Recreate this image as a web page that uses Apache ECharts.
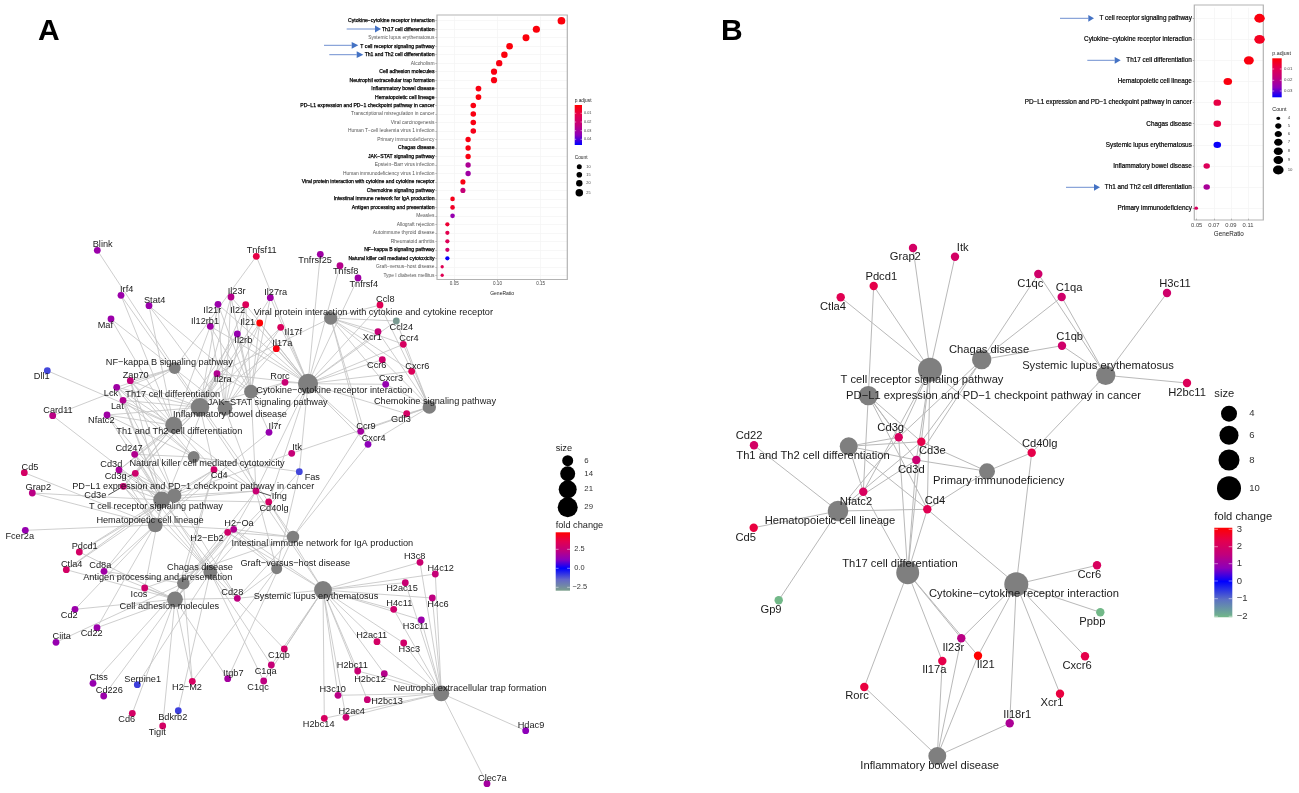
<!DOCTYPE html>
<html>
<head>
<meta charset="utf-8">
<script src="https://cdn.jsdelivr.net/npm/echarts@6/dist/echarts.min.js"></script>
<style>html,body{margin:0;padding:0;background:#fff}#c{width:1299px;height:793px}</style>
</head>
<body>
<div id="c"></div>
<script>
// ---------- Dot plot A ----------
const dotACategories = ["Cytokine−cytokine receptor interaction","Th17 cell differentiation","Systemic lupus erythematosus","T cell receptor signaling pathway","Th1 and Th2 cell differentiation","Alcoholism","Cell adhesion molecules","Neutrophil extracellular trap formation","Inflammatory bowel disease","Hematopoietic cell lineage","PD−L1 expression and PD−1 checkpoint pathway in cancer","Transcriptional misregulation in cancer","Viral carcinogenesis","Human T−cell leukemia virus 1 infection","Primary immunodeficiency","Chagas disease","JAK−STAT signaling pathway","Epstein−Barr virus infection","Human immunodeficiency virus 1 infection","Viral protein interaction with cytokine and cytokine receptor","Chemokine signaling pathway","Intestinal immune network for IgA production","Antigen processing and presentation","Measles","Allograft rejection","Autoimmune thyroid disease","Rheumatoid arthritis","NF−kappa B signaling pathway","Natural killer cell mediated cytotoxicity","Graft−versus−host disease","Type I diabetes mellitus"];
const dotARatio = [0.174,0.145,0.133,0.114,0.108,0.102,0.096,0.096,0.078,0.078,0.072,0.072,0.072,0.072,0.066,0.066,0.066,0.066,0.066,0.060,0.060,0.048,0.048,0.048,0.042,0.042,0.042,0.042,0.042,0.036,0.036];
const dotACount = [29,24,22,19,18,17,16,16,13,13,12,12,12,12,11,11,11,11,11,10,10,8,8,8,7,7,7,7,7,6,6];
const dotAPadj = [0.002,0.002,0.002,0.002,0.002,0.003,0.003,0.003,0.003,0.002,0.003,0.003,0.003,0.004,0.003,0.003,0.003,0.028,0.031,0.003,0.022,0.004,0.006,0.033,0.008,0.012,0.014,0.019,0.046,0.013,0.013];
const dotABold = ["Cytokine−cytokine receptor interaction","Th17 cell differentiation","T cell receptor signaling pathway","Th1 and Th2 cell differentiation","Cell adhesion molecules","Neutrophil extracellular trap formation","Inflammatory bowel disease","Hematopoietic cell lineage","PD−L1 expression and PD−1 checkpoint pathway in cancer","Chagas disease","JAK−STAT signaling pathway","Viral protein interaction with cytokine and cytokine receptor","Chemokine signaling pathway","Intestinal immune network for IgA production","Antigen processing and presentation","NF−kappa B signaling pathway","Natural killer cell mediated cytotoxicity"];
const dotATicks = [0.05,0.10,0.15];

// ---------- Dot plot B ----------
const dotBCategories = ["T cell receptor signaling pathway","Cytokine−cytokine receptor interaction","Th17 cell differentiation","Hematopoietic cell lineage","PD−L1 expression and PD−1 checkpoint pathway in cancer","Chagas disease","Systemic lupus erythematosus","Inflammatory bowel disease","Th1 and Th2 cell differentiation","Primary immunodeficiency"];
const dotBRatio = [0.1235,0.1235,0.111,0.0864,0.0741,0.0741,0.0741,0.0617,0.0617,0.0494];
const dotBCount = [10,10,9,7,6,6,6,5,5,4];
const dotBPadj = [0.002,0.004,0.002,0.002,0.008,0.008,0.035,0.011,0.022,0.012];
const dotBTicks = [0.05,0.07,0.09,0.11];

// ---------- Network A: layout positions are the data of a network ----------
const netAPathways = [["Viral protein interaction with cytokine and cytokine receptor",330.7,318,10],["Cytokine−cytokine receptor interaction",308,383.7,29],["Chemokine signaling pathway",429.3,407,10],["JAK−STAT signaling pathway",251,391.7,11],["Inflammatory bowel disease",225,408.3,13],["Th17 cell differentiation",200,407.3,24],["Th1 and Th2 cell differentiation",173.7,425.3,19],["NF−kappa B signaling pathway",174.7,368,7],["Natural killer cell mediated cytotoxicity",193.7,457,7],["T cell receptor signaling pathway",161.7,500,19],["PD−L1 expression and PD−1 checkpoint pathway in cancer",174.3,495.7,12],["Hematopoietic cell lineage",155.3,525,13],["Chagas disease",210.3,572,11],["Antigen processing and presentation",183.3,583.3,8],["Cell adhesion molecules",175,599.3,16],["Intestinal immune network for IgA production",293,537,8],["Graft−versus−host disease",276.7,568.7,6],["Systemic lupus erythematosus",323,590,22],["Neutrophil extracellular trap formation",441.3,693.3,16]];
const netAGenes = [["Blink",97.3,250.3,1.5],["Tnfsf11",256.3,256.3,3.7],["Irf4",121,295.3,1.5],["Stat4",149,305.7,1.5],["Il21r",218,304.3,1.5],["Il23r",231,297,2.1],["Il22",245.7,304.7,3.3],["Il27ra",270.3,297.7,1.6],["Maf",111,319,1.5],["Il12rb1",210.3,326.3,1.6],["Il21",259.7,323,4.7],["Il17f",280.7,327.3,3.2],["Il2rb",237.3,334,1.4],["Il17a",276.3,348.7,4.5],["Dll1",47.3,370.7,-1],["Zap70",130.3,380.7,2.4],["Il2ra",217,373.7,2.0],["Rorc",285,382.3,2.6],["Lck",116.7,387.3,1.6],["Lat",123,400.3,2.0],["Nfatc2",107,415,1.6],["Card11",52.7,415.7,2.2],["Il7r",269,432.3,1.4],["Cd247",134.7,454.3,2.0],["Itk",291.7,453.3,2.5],["Cd3d",119,470,1.8],["Cd3g",135.3,473.3,2.8],["Cd4",214,469.7,2.9],["Cd5",24.3,472.7,3.0],["Grap2",32.3,493,2.2],["Cd3e",123.3,486.3,2.6],["Ifng",256,491,2.6],["Cd40lg",268.7,502,3.0],["Tnfrsf25",320.3,254.3,1.6],["Tnfsf8",340,265.7,2.1],["Tnfrsf4",358,278,1.6],["Ccl8",380,305,3.4],["Ccl24",396.3,321,-2.8],["Xcr1",378,331.7,2.5],["Ccr4",403.3,344.3,3.1],["Ccr6",382.3,359.7,2.8],["Cxcr6",411.7,371.3,3.3],["Cxcr3",385.7,384.3,1.4],["Gdf3",406.7,413.7,3.0],["Ccr9",360.7,431.3,1.7],["Cxcr4",368,444.3,1.2],["Fas",299.3,471.7,-1],["Fcer2a",25.3,530.3,1.4],["H2−Oa",233.7,529.3,2.0],["H2−Eb2",227.7,532.3,2.9],["Pdcd1",79.3,552,3.0],["Ctla4",66.3,569.7,3.0],["Cd8a",104,571.3,1.6],["Icos",144.7,588,2.8],["Cd28",237.3,598.3,2.3],["Cd2",75,609.3,1.5],["Cd22",97,627.7,1.5],["Ciita",56,642.3,1.4],["C1qb",284.3,649,2.9],["C1qa",271.3,665,2.5],["Itgb7",227.7,678.7,1.7],["C1qc",263.7,681,2.3],["H2−M2",192.3,681.3,3.1],["Ctss",93,683.3,1.4],["Serpine1",137.3,684.7,-0.9],["Cd226",103.7,696,1.5],["Bdkrb2",178.3,710.7,-0.9],["Cd6",132.3,713.3,3.0],["Tigit",162.7,726,3.0],["H3c8",420,562.3,2.7],["H4c12",435.3,574,2.5],["H2ac15",405.3,582.7,2.6],["H4c6",432.3,598,2.3],["H4c11",393.7,609.3,2.8],["H3c11",421.3,620,1.5],["H2ac11",377,641.7,3.0],["H3c3",403.7,643,2.9],["H2bc11",357.7,671,2.6],["H2bc12",384.3,673.7,2.1],["H3c10",338,695.3,2.2],["H2bc13",367.3,699.7,2.6],["H2ac4",346,717.3,2.7],["H2bc14",324.3,718.3,3.1],["Hdac9",525.7,730.7,1.2],["Clec7a",487,783.7,1.7]];
const netAMembers = {
 "Viral protein interaction with cytokine and cytokine receptor":["Ccl8","Ccl24","Xcr1","Ccr4","Ccr6","Cxcr6","Cxcr3","Ccr9","Cxcr4","Il2ra"],
 "Cytokine−cytokine receptor interaction":["Tnfsf11","Il21r","Il23r","Il22","Il27ra","Il12rb1","Il21","Il17f","Il2rb","Il17a","Il2ra","Il7r","Tnfrsf25","Tnfsf8","Tnfrsf4","Ccl8","Ccl24","Xcr1","Ccr4","Ccr6","Cxcr6","Cxcr3","Gdf3","Ccr9","Cxcr4","Fas","Ifng","Cd40lg","Rorc"],
 "Chemokine signaling pathway":["Ccl8","Ccl24","Xcr1","Ccr4","Ccr6","Cxcr6","Cxcr3","Ccr9","Cxcr4","Gdf3","Itk"],
 "JAK−STAT signaling pathway":["Il21r","Il23r","Il22","Il27ra","Il12rb1","Il21","Il2rb","Il2ra","Il7r","Ifng","Stat4"],
 "Inflammatory bowel disease":["Il21r","Il23r","Il22","Il12rb1","Il21","Il17f","Il17a","Stat4","Maf","Rorc","Ifng"],
 "Th17 cell differentiation":["Il21r","Il23r","Il22","Il21","Il17f","Il17a","Il2ra","Il2rb","Il27ra","Irf4","Rorc","Zap70","Lck","Lat","Nfatc2","Cd3d","Cd3g","Cd3e","Cd4","Ifng"],
 "Th1 and Th2 cell differentiation":["Il12rb1","Il2ra","Il2rb","Stat4","Maf","Zap70","Lck","Lat","Nfatc2","Cd247","Cd3d","Cd3g","Cd3e","Cd4","Ifng","Dll1","Irf4"],
 "NF−kappa B signaling pathway":["Blink","Tnfsf11","Zap70","Lck","Lat","Card11","Cd40lg"],
 "Natural killer cell mediated cytotoxicity":["Zap70","Lck","Lat","Cd247","Ifng","Fas","Nfatc2"],
 "T cell receptor signaling pathway":["Zap70","Lck","Lat","Card11","Nfatc2","Cd247","Cd3d","Cd3g","Cd3e","Cd4","Ifng","Cd40lg","Itk","Grap2","Pdcd1","Ctla4","Cd8a","Icos","Cd28"],
 "PD−L1 expression and PD−1 checkpoint pathway in cancer":["Zap70","Lck","Nfatc2","Cd247","Cd3d","Cd3g","Cd3e","Cd4","Ifng","Pdcd1","Ctla4","Cd28"],
 "Hematopoietic cell lineage":["Il7r","Cd3d","Cd3g","Cd3e","Cd4","Cd5","Fcer2a","Cd2","Cd8a","Cd22","Il2ra","Grap2","H2−Oa"],
 "Chagas disease":["C1qb","C1qa","C1qc","Cd3d","Cd3g","Cd3e","Cd247","Ifng","Fas","Serpine1","Bdkrb2"],
 "Antigen processing and presentation":["Cd4","Cd8a","H2−Oa","H2−Eb2","H2−M2","Ciita","Ctss","Ifng"],
 "Cell adhesion molecules":["Cd4","Cd8a","H2−Oa","H2−Eb2","H2−M2","Cd2","Cd22","Cd6","Cd226","Icos","Cd28","Ctla4","Pdcd1","Tigit","Itgb7","Cd40lg"],
 "Intestinal immune network for IgA production":["H2−Oa","H2−Eb2","Cd28","Ccr9","Cxcr4","Itgb7","Icos","Cd40lg"],
 "Graft−versus−host disease":["H2−Oa","H2−Eb2","H2−M2","Cd28","Ifng","Fas"],
 "Systemic lupus erythematosus":["H3c8","H4c12","H2ac15","H4c6","H4c11","H3c11","H2ac11","H3c3","H2bc11","H2bc12","H3c10","H2bc13","H2ac4","H2bc14","C1qb","C1qa","C1qc","H2−Oa","H2−Eb2","Cd28","Cd40lg","Ifng"],
 "Neutrophil extracellular trap formation":["H3c8","H4c12","H2ac15","H4c6","H4c11","H3c11","H2ac11","H3c3","H2bc11","H2bc12","H3c10","H2bc13","H2ac4","H2bc14","Hdac9","Clec7a"]
};

// ---------- Network B ----------
const netBPathways = [["T cell receptor signaling pathway",930,369.7,10],["Chagas disease",981.7,359.7,6],["Systemic lupus erythematosus",1105.7,375.3,6],["PD−L1 expression and PD−1 checkpoint pathway in cancer",868.3,395.7,6],["Th1 and Th2 cell differentiation",848.7,446.3,5],["Primary immunodeficiency",987,471.3,4],["Hematopoietic cell lineage",838,511,7],["Th17 cell differentiation",907.7,572.7,9],["Cytokine−cytokine receptor interaction",1016.3,584.3,10],["Inflammatory bowel disease",937.3,756,5]];
const netBGenes = [["Grap2",913,248,1.9],["Itk",955,256.7,1.9],["Pdcd1",873.7,286,2.3],["Ctla4",840.7,297.3,2.2],["C1qc",1038.3,274,1.8],["C1qa",1061.7,297,1.8],["C1qb",1062,345.7,1.8],["H3c11",1167,293,1.8],["H2bc11",1187,383,2.1],["Cd22",754,445.3,1.9],["Cd3g",898.7,437.3,2.0],["Cd3e",921.3,441.7,2.3],["Cd3d",916.3,460,1.7],["Cd40lg",1031.7,452.7,2.3],["Nfatc2",863.3,491.7,2.0],["Cd4",927.3,509.3,2.2],["Cd5",753.7,527.7,2.4],["Gp9",778.7,600.3,-2],["Ccr6",1097,565.3,2.0],["Ppbp",1100.3,612.3,-2],["Il23r",961.3,638.3,1.4],["Il21",978,655.7,3],["Il17a",942.3,661,2.3],["Cxcr6",1085,656.3,2.3],["Rorc",864.3,687,2.4],["Xcr1",1060,693.7,2.4],["Il18r1",1009.7,723.3,1.2]];
const netBMembers = {
 "T cell receptor signaling pathway":["Ctla4","Pdcd1","Grap2","Itk","Cd3g","Cd3e","Cd3d","Cd4","Nfatc2","Cd40lg"],
 "PD−L1 expression and PD−1 checkpoint pathway in cancer":["Pdcd1","Nfatc2","Cd3g","Cd3e","Cd3d","Cd4"],
 "Chagas disease":["C1qc","C1qa","C1qb","Cd3g","Cd3e","Cd3d"],
 "Systemic lupus erythematosus":["C1qc","C1qa","C1qb","H3c11","H2bc11","Cd40lg"],
 "Th1 and Th2 cell differentiation":["Cd3g","Cd3e","Cd3d","Cd4","Nfatc2"],
 "Primary immunodeficiency":["Cd3e","Cd3d","Cd4","Cd40lg"],
 "Hematopoietic cell lineage":["Cd22","Cd5","Gp9","Cd3g","Cd3e","Cd3d","Cd4"],
 "Th17 cell differentiation":["Cd3g","Cd3e","Cd3d","Cd4","Nfatc2","Il23r","Il21","Il17a","Rorc"],
 "Cytokine−cytokine receptor interaction":["Cd4","Cd40lg","Ccr6","Ppbp","Cxcr6","Xcr1","Il18r1","Il21","Il23r"],
 "Inflammatory bowel disease":["Rorc","Il17a","Il23r","Il21","Il18r1"]
};

// ---------- label anchors ----------
const labelPosA = {"Blink":[102.7,244.7],"Tnfsf11":[261.7,250.7],"Irf4":[126.7,289.7],"Stat4":[154.7,300],"Il23r":[236.7,291.3],"Il27ra":[275.7,292],"Il21r":[212.3,310.3],"Il22":[237.7,310.7],"Maf":[105.3,325.3],"Il12rb1":[205,321],"Il21":[247.7,322.3],"Il17f":[293.3,332.3],"Il2rb":[243.3,340.3],"Il17a":[282.3,343],"Dll1":[41.7,376.7],"Zap70":[135.7,375],"Il2ra":[222.7,379.3],"Rorc":[280,376.7],"Lck":[111,393.3],"Lat":[117.3,406],"Nfatc2":[101.3,420.7],"Card11":[58,410],"Il7r":[275,426.7],"Cd247":[129,448.3],"Itk":[297,447.3],"Cd3d":[111.3,464.3],"Cd3g":[115.7,476],"Cd4":[219.3,475.7],"Cd5":[30,467],"Grap2":[38.3,487.3],"Cd3e":[95.3,495],"Ifng":[279.3,496.3],"Cd40lg":[274,508.3],"Fas":[312.3,477.3],"Tnfrsf25":[315,260],"Tnfsf8":[345.7,271.7],"Tnfrsf4":[363.7,284],"Ccl8":[385.3,299.3],"Ccl24":[401.3,327],"Xcr1":[372.3,337.7],"Ccr4":[409,338.7],"Ccr6":[376.7,365.7],"Cxcr6":[417.3,366],"Cxcr3":[391,378.7],"Gdf3":[401,419.7],"Ccr9":[366,426],"Cxcr4":[373.7,438.7],"Viral protein interaction with cytokine and cytokine receptor":[373.3,312],"Cytokine−cytokine receptor interaction":[334.3,390.7],"Chemokine signaling pathway":[435,401.7],"JAK−STAT signaling pathway":[267.7,402],"Inflammatory bowel disease":[230,414.3],"Th17 cell differentiation":[172.7,394.7],"Th1 and Th2 cell differentiation":[179.3,431.3],"NF−kappa B signaling pathway":[169.3,362.7],"Natural killer cell mediated cytotoxicity":[207,463.3],"PD−L1 expression and PD−1 checkpoint pathway in cancer":[193.2,486.3],"T cell receptor signaling pathway":[156,506.3],"Hematopoietic cell lineage":[150,520.3],"H2−Oa":[239,523.7],"H2−Eb2":[207,538.3],"Pdcd1":[84.7,546.3],"Ctla4":[71.7,564],"Cd8a":[100.3,565.7],"Chagas disease":[200,567],"Antigen processing and presentation":[157.7,577.7],"Icos":[139,594],"Cell adhesion molecules":[169.3,606],"Cd2":[69.3,615.3],"Cd22":[91.7,633.7],"Ciita":[61.7,636.7],"Cd28":[232.3,592.7],"C1qb":[279,655],"C1qa":[265.7,671],"Itgb7":[233.3,673],"C1qc":[258,687],"H2−M2":[187,687.3],"Ctss":[98.7,677.7],"Serpine1":[142.7,679],"Cd226":[109.3,690],"Bdkrb2":[172.7,717],"Cd6":[126.7,719.3],"Tigit":[157.3,732],"Fcer2a":[19.7,536.3],"Intestinal immune network for IgA production":[322.3,543],"Graft−versus−host disease":[295.3,563],"Systemic lupus erythematosus":[316,596.7],"H3c8":[414.7,556.3],"H4c12":[440.7,568],"H2ac15":[402,588.7],"H4c6":[438,604],"H4c11":[399.3,603.3],"H3c11":[415.7,626],"H2ac11":[371.7,635.7],"H3c3":[409.3,649],"H2bc11":[352.3,665.3],"H2bc12":[370,679.3],"H3c10":[332.7,689.7],"H2bc13":[387,701],"H2ac4":[351.7,711.3],"H2bc14":[318.7,724.3],"Neutrophil extracellular trap formation":[470,688.3],"Hdac9":[531,725],"Clec7a":[492.3,778]};
const labelPosB = {"Grap2":[905.3,257.3],"Itk":[962.7,247.7],"Pdcd1":[881.3,277],"Ctla4":[833,306.7],"C1qc":[1030.3,283.7],"C1qa":[1069,288.3],"C1qb":[1069.7,336.7],"H3c11":[1175,284],"H2bc11":[1187,393],"Chagas disease":[989,350.3],"T cell receptor signaling pathway":[922,380],"PD−L1 expression and PD−1 checkpoint pathway in cancer":[993.5,396],"Systemic lupus erythematosus":[1098,366],"Cd22":[749,436.3],"Th1 and Th2 cell differentiation":[813,456],"Cd3g":[890.7,428.3],"Cd3e":[932.3,451.3],"Cd3d":[911.3,469.7],"Cd40lg":[1039.7,444.3],"Primary immunodeficiency":[998.7,480.7],"Nfatc2":[856,501.7],"Cd4":[935,500.7],"Hematopoietic cell lineage":[830,521.3],"Cd5":[745.7,537.7],"Gp9":[771,610],"Th17 cell differentiation":[900,564],"Cytokine−cytokine receptor interaction":[1024,594.3],"Ccr6":[1089.3,575],"Ppbp":[1092.3,622],"Il23r":[953.3,648],"Il21":[985.7,665],"Il17a":[934.3,670.3],"Cxcr6":[1077,665.7],"Rorc":[857,696.3],"Xcr1":[1052,702.7],"Il18r1":[1017.3,714.7],"Inflammatory bowel disease":[929.7,766.3]};
const leaderEndsA = {"Cd3g":[127.7,476.7],"Cd3e":[108.3,495],"Ifng":[270.7,495.7],"JAK−STAT signaling pathway":[258.3,398.3],"Th17 cell differentiation":[192.7,400.7],"PD−L1 expression and PD−1 checkpoint pathway in cancer":[181.7,490]};

// ---------- colours ----------
function hex(c){return [1,3,5].map(i=>parseInt(c.substr(i,2),16));}
function ramp(stops,t){
  t=Math.max(0,Math.min(1,t));
  for(let i=1;i<stops.length;i++){
    if(t<=stops[i][0]){
      const f=(t-stops[i-1][0])/(stops[i][0]-stops[i-1][0]);
      const a=hex(stops[i-1][1]),b=hex(stops[i][1]);
      return 'rgb('+a.map((v,k)=>Math.round(v+(b[k]-v)*f)).join(',')+')';
    }
  }
  return stops[stops.length-1][1];
}
const redBlue=[[0,'#ff0000'],[0.25,'#e3004f'],[0.5,'#c1007c'],[0.75,'#8d00ba'],[1,'#0000ff']];
const padjColorA=p=>ramp(redBlue,(p-0.0004)/(0.0466-0.0004));
const padjColorB=p=>ramp(redBlue,(p-0.0003)/(0.0356-0.0003));
function foldStops(top,bottom,lowMid,low){
  const z=top/(top-bottom);
  return redBlue.map(s=>[s[0]*z,s[1]]).concat([[z+(1-z)*0.5,lowMid],[1,low]]);
}
const foldStopsA=foldStops(4.74,-2.95,'#6468c8','#7ca08c');
const foldStopsB=foldStops(3,-2,'#5c70c4','#72b888');
const foldColorA=v=>ramp(foldStopsA,(4.74-v)/(4.74+2.95));
const foldColorB=v=>ramp(foldStopsB,(3-v)/5);

// ---------- sizes ----------
const dotSizeA=c=>3.3+4.4*Math.sqrt((c-6)/23);
const dotSizeB=c=>3.5+6.5*Math.sqrt((c-4)/6);
const netSizeA=c=>11+9*Math.pow((c-6)/23,0.75);
const netSizeB=c=>16+8*Math.pow((c-4)/6,0.8);

const FONT='"Liberation Sans", Arial, sans-serif';

function buildNet(pathways,genes,members,labels,opt){
  const nodes=[];
  const lab=(name,x,y)=>{
    const p=labels[name]||[x,y];
    return {show:true,position:'inside',offset:[p[0]-x,p[1]-y],color:'#1a1a1a',fontSize:opt.font,fontFamily:FONT};
  };
  pathways.forEach(r=>nodes.push({name:r[0],value:[r[1],r[2]],symbolSize:opt.size(r[3]),itemStyle:{color:'#7f7f7f'},label:lab(r[0],r[1],r[2])}));
  genes.forEach(r=>nodes.push({name:r[0],value:[r[1],r[2]],symbolSize:opt.gene,itemStyle:{color:opt.color(r[3])},label:lab(r[0],r[1],r[2])}));
  const links=[];
  Object.keys(members).forEach(p=>members[p].forEach(g=>links.push({source:p,target:g})));
  return {type:'graph',coordinateSystem:'cartesian2d',xAxisIndex:0,yAxisIndex:0,layout:'none',silent:true,data:nodes,links:links,
    lineStyle:{color:opt.edgeColor,width:opt.edge,opacity:1,curveness:0},emphasis:{disabled:true},z:3};
}

function dotAxes(cfg){
  return {
    grid:{left:cfg.left,top:cfg.top,width:cfg.width,height:cfg.height,show:false,containLabel:false},
    x:{type:'value',gridIndex:cfg.idx,min:cfg.min,max:cfg.max,name:'GeneRatio',nameLocation:'middle',nameGap:cfg.nameGap,
       nameTextStyle:{fontSize:cfg.nameFont,color:'#222',fontFamily:FONT},
       axisLine:{show:false},axisTick:{show:true,length:1.5,lineStyle:{color:'#666',width:0.6},customValues:cfg.ticks},
       axisLabel:{fontSize:cfg.tickFont,color:'#444',margin:cfg.margin,fontFamily:FONT,customValues:cfg.ticks,formatter:v=>v.toFixed(2)},
       splitLine:{show:true,lineStyle:{color:'#f4f4f4',width:0.7}}},
    y:{type:'category',gridIndex:cfg.idx,inverse:true,data:cfg.categories,
       axisLine:{show:false},axisTick:{show:true,length:1.5,alignWithLabel:true,lineStyle:{color:'#666',width:0.6}},
       axisLabel:cfg.labels,splitLine:{show:true,alignWithLabel:true,lineStyle:{color:'#f4f4f4',width:0.7}}}
  };
}
const axA=dotAxes({idx:1,left:437,top:16.5,width:130.3,height:263,min:0.03,max:0.1808,nameGap:11.5,nameFont:5,tickFont:4.6,margin:2,ticks:dotATicks,categories:dotACategories,
  labels:{interval:0,margin:2.5,fontFamily:FONT,formatter:v=>dotABold.includes(v)?'{b|'+v+'}':'{n|'+v+'}',
    rich:{b:{fontSize:5.1,color:'#000',fontFamily:FONT,textBorderColor:'#000',textBorderWidth:0.25},n:{fontSize:4.9,color:'#555',fontFamily:FONT}}}});
const axB=dotAxes({idx:2,left:1194.3,top:7.7,width:69,height:211,min:0.0472,max:0.1279,nameGap:13,nameFont:6.3,tickFont:5.8,margin:3.5,ticks:dotBTicks,categories:dotBCategories,
  labels:{interval:0,margin:2.5,fontSize:6.35,color:'#000',fontFamily:FONT,textBorderColor:'#000',textBorderWidth:0.2}});

function dotSeries(idx,cats,ratio,count,padj,sizeFn,colorFn,sx,sy){
  return {type:'scatter',xAxisIndex:idx,yAxisIndex:idx,clip:false,silent:true,z:4,
    data:cats.map((c,i)=>({value:[ratio[i],c],symbolSize:[sizeFn(count[i])*sx,sizeFn(count[i])*sy],itemStyle:{color:colorFn(padj[i]),opacity:1}}))};
}

// ---------- decorations: legends, arrows, letters ----------
const g=[];
const txt=(s,x,y,size,o)=>g.push(Object.assign({type:'text',silent:true,z:10,style:Object.assign({text:s,x:x,y:y,fontSize:size,fill:'#222',fontFamily:FONT,textVerticalAlign:'middle',textAlign:'left'},(o||{}))}));
const circle=(x,y,d)=>g.push({type:'circle',silent:true,z:10,shape:{cx:x,cy:y,r:d/2},style:{fill:'#000'}});
function bar(x,y,w,h,stops,ticks){
  g.push({type:'rect',silent:true,z:10,shape:{x:x,y:y,width:w,height:h},style:{fill:{type:'linear',x:0,y:0,x2:0,y2:1,colorStops:stops.map(s=>({offset:s[0],color:s[1]}))}}});
  ticks.forEach(t=>{
    g.push({type:'line',silent:true,z:11,shape:{x1:x,y1:t,x2:x+w*0.2,y2:t},style:{stroke:'#fff',lineWidth:0.6,opacity:0.8}});
    g.push({type:'line',silent:true,z:11,shape:{x1:x+w*0.8,y1:t,x2:x+w,y2:t},style:{stroke:'#fff',lineWidth:0.6,opacity:0.8}});
  });
}
function arrow(x1,x2,x3,y){
  g.push({type:'line',silent:true,z:10,shape:{x1:x1,y1:y,x2:x2,y2:y},style:{stroke:'#6f8fd0',lineWidth:1}});
  g.push({type:'polygon',silent:true,z:10,shape:{points:[[x2,y-3.4],[x3,y],[x2,y+3.4]]},style:{fill:'#4472c4'}});
}
// letters
txt('A',38,32,30,{fontWeight:'bold',fill:'#000'});
txt('B',721,32,30,{fontWeight:'bold',fill:'#000'});
// panel frames
g.push({type:'rect',silent:true,z:2,shape:{x:437,y:15,width:130.3,height:264.5},style:{fill:null,stroke:'#b3b3b3',lineWidth:1.2}});
g.push({type:'rect',silent:true,z:2,shape:{x:1194.3,y:5,width:69,height:215},style:{fill:null,stroke:'#b3b3b3',lineWidth:1.2}});
// arrows
arrow(346.7,375,381,29);arrow(324,351.7,358.3,45.3);arrow(329.3,356.7,363.3,54.7);
arrow(1060,1088.3,1094,18.3);arrow(1087.3,1114.7,1120.7,60.3);arrow(1066,1094,1100,187.3);
// dot A legends
txt('p.adjust',574.7,100.3,4.8);
bar(574.7,105,7.3,40,redBlue,[113.3,122,130.7,139.3]);
[['0.01',113.3],['0.02',122],['0.03',130.7],['0.04',139.3]].forEach(t=>txt(t[0],584,t[1],3.8,{fill:'#444'}));
txt('Count',574.7,158,4.8);
[['10',166.7,5],['15',174.7,5.6],['20',183.3,6.4],['25',192.7,7.5]].forEach(t=>{circle(579.3,t[1],t[2]);txt(t[0],586.3,t[1],3.8,{fill:'#444'});});
// dot B legends
txt('p.adjust',1272.3,53.7,5.3);
bar(1272.3,58.3,9.4,39,redBlue,[69,80.3,91]);
[['0.01',69],['0.02',80.3],['0.03',91]].forEach(t=>txt(t[0],1284,t[1],4.3,{fill:'#444'}));
txt('Count',1272.3,109.7,5.3);
[['4',118.3,3.8],['5',126,6],['6',134,7],['7',142.3,8],['8',151.3,8.6],['9',160,9.2],['10',170,10]].forEach(t=>{
  g.push({type:'ellipse',silent:true,z:10,shape:{cx:1278.3,cy:t[1],rx:t[2]/2*1.05,ry:t[2]/2*0.88},style:{fill:'#000'}});
  txt(t[0],1287.7,t[1],4.3,{fill:'#444'});
});
// net A legends
txt('size',555.7,448.3,9.2);
[['6',460.7,11],['14',473.7,15],['21',489.3,18],['29',507.3,20]].forEach(t=>{circle(567.7,t[1],t[2]);txt(t[0],584.3,t[1],7.8,{fill:'#333'});});
txt('fold change',555.7,525.3,9.2);
bar(555.7,532.3,14.3,58.4,foldStopsA,[549.3,568.3,587.3]);
[['2.5',549.3],['0.0',568.3],['−2.5',587.3]].forEach(t=>txt(t[0],t[0].length>3?572.5:574.3,t[1],7.4,{fill:'#333'}));
// net B legends
txt('size',1214.3,393.7,11.2);
[['4',413.7,16],['6',435.3,19],['8',460,21],['10',488.3,24]].forEach(t=>{circle(1229,t[1],t[2]);txt(t[0],1249.3,t[1],9.5,{fill:'#333'});});
txt('fold change',1214.3,516.7,11.2);
bar(1214.3,527.7,18,89.6,foldStopsB,[529.3,546.7,563.7,581,598.7,616.3]);
[['3',529.3],['2',546.7],['1',563.7],['0',581],['−1',598.7],['−2',616.3]].forEach(t=>txt(t[0],1236.7,t[1],9.5,{fill:'#333'}));

// ---------- leaders (repel segments) ----------
const allA=netAPathways.concat(netAGenes);
const leaderData=Object.keys(leaderEndsA).map(n=>{const r=allA.find(a=>a[0]===n);return {coords:[[r[1],r[2]],leaderEndsA[n]]};});

const chart=echarts.init(document.getElementById('c'),null,{renderer:'canvas'});
chart.setOption({
  animation:false,
  backgroundColor:'#fff',
  grid:[{left:0,top:0,width:1299,height:793,show:false},axA.grid,axB.grid],
  xAxis:[{type:'value',gridIndex:0,min:0,max:1299,show:false},axA.x,axB.x],
  yAxis:[{type:'value',gridIndex:0,min:0,max:793,inverse:true,show:false},axA.y,axB.y],
  series:[
    buildNet(netAPathways,netAGenes,netAMembers,labelPosA,{font:9.2,gene:6.8,edge:0.8,edgeColor:'#c2c2c2',size:netSizeA,color:foldColorA}),
    buildNet(netBPathways,netBGenes,netBMembers,labelPosB,{font:11.2,gene:8.4,edge:1,edgeColor:'#b9b9b9',size:netSizeB,color:foldColorB}),
    {type:'lines',coordinateSystem:'cartesian2d',xAxisIndex:0,yAxisIndex:0,silent:true,z:3,data:leaderData,lineStyle:{color:'#222',width:0.8,opacity:1}},
    dotSeries(1,dotACategories,dotARatio,dotACount,dotAPadj,dotSizeA,padjColorA,1,1),
    dotSeries(2,dotBCategories,dotBRatio,dotBCount,dotBPadj,dotSizeB,padjColorB,1.05,0.88)
  ],
  graphic:{elements:g}
});
</script>
</body>
</html>
